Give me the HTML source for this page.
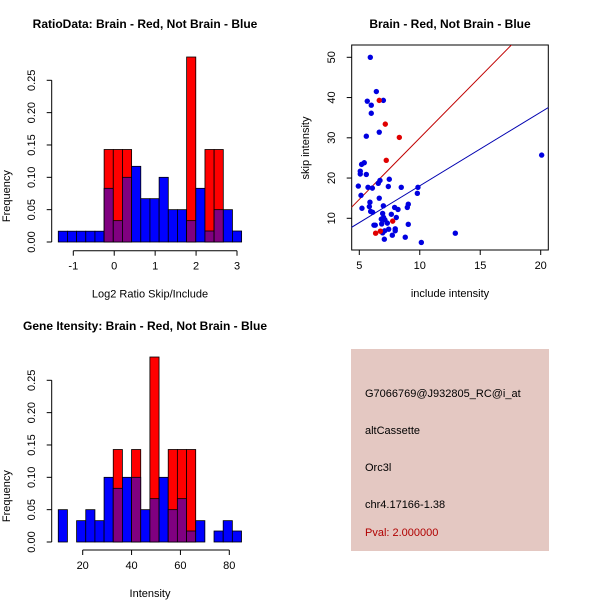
<!DOCTYPE html>
<html><head><meta charset="utf-8"><style>
body{margin:0;background:#fff}
svg{display:block;font-family:"Liberation Sans",sans-serif}
</style></head><body>
<svg id="c" width="600" height="600" xmlns="http://www.w3.org/2000/svg">
<rect width="600" height="600" fill="#fff"/>
<text x="145" y="28" font-size="12" font-weight="bold" text-anchor="middle">RatioData: Brain - Red, Not Brain - Blue</text>
<text x="450" y="28" font-size="12" font-weight="bold" text-anchor="middle">Brain - Red, Not Brain - Blue</text>
<text x="145" y="330" font-size="12" font-weight="bold" text-anchor="middle">Gene Itensity: Brain - Red, Not Brain - Blue</text>
<g>
<rect x="351" y="349" width="198" height="202" fill="#e4c8c2"/>
<text x="365" y="397" font-size="11">G7066769@J932805_RC@i_at</text>
<text x="365" y="434" font-size="11">altCassette</text>
<text x="365" y="471" font-size="11">Orc3l</text>
<text x="365" y="508" font-size="11">chr4.17166-1.38</text>
<text x="365" y="536" font-size="11" fill="#b00000">Pval: 2.000000</text>
</g>
</svg>
<script>
// Ratio histogram data
const ratioBinStart = -1.367;
const ratioBinWidth = 0.224;
const ratioBlue = [0.0167,0.0167,0.0167,0.0167,0.0167,0.083,0.033,0.1,0.117,0.067,0.067,0.1,0.05,0.05,0.033,0.083,0.017,0.05,0.05,0.017];
const ratioRed = [0,0,0,0,0,0.143,0.143,0.143,0,0,0,0,0,0,0.286,0,0.143,0.143,0,0];
const ratioXTicks = [-1,0,1,2,3];
const freqTicks = ["0.00","0.05","0.10","0.15","0.20","0.25"];
// Intensity histogram data
const intBinStart = 10;
const intBinWidth = 3.75;
const intBlue = [0.05,0,0.033,0.05,0.033,0.1,0.083,0.1,0.1,0.05,0.067,0.1,0.05,0.067,0.017,0.033,0,0.017,0.033,0.017];
const intRed = [0,0,0,0,0,0,0.143,0,0.143,0,0.286,0,0.143,0.143,0.143,0,0,0,0,0];
const intXTicks = [20,40,60,80];
// Scatter data
const blueX = [5.91,6.41,6.99,5.66,5.99,5.99,6.65,5.58,5.19,5.41,5.08,5.08,5.58,4.92,5.72,6.08,6.71,6.57,7.48,7.40,8.47,9.85,9.80,5.14,6.65,5.88,5.83,6.99,5.22,5.94,6.10,9.05,8.97,7.92,8.20,8.06,6.93,7.65,7.01,6.82,7.12,7.32,6.85,6.32,6.21,9.05,7.97,7.97,7.43,7.10,6.93,7.73,8.80,7.07,10.13,12.94,20.08];
const blueY = [50.0,41.5,39.3,39.1,38.1,36.1,31.4,30.4,23.4,23.8,21.7,21.0,20.9,18.0,17.7,17.5,19.4,18.7,19.7,17.9,17.7,17.7,16.2,15.7,15.0,14.0,12.9,13.1,12.5,11.7,11.5,13.5,12.7,12.7,12.2,10.2,11.2,11.0,10.2,9.8,9.6,8.8,8.6,8.3,8.3,8.5,7.4,6.9,7.3,6.9,6.4,5.8,5.3,4.8,4.0,6.3,25.7];
const redX = [6.65,7.15,8.31,7.23,7.76,6.35,6.74];
const redY = [39.3,33.4,30.1,24.4,9.3,6.3,6.8];
const scatterXTicks = [5,10,15,20];
const scatterYTicks = [10,20,30,40,50];
const blueFit = [-0.23,1.83];
const redFit = [-0.55,3.05];

const NS="http://www.w3.org/2000/svg";
const svg=document.getElementById('c');
function mk(tag,attrs,parent){const e=document.createElementNS(NS,tag);for(const k in attrs)e.setAttribute(k,attrs[k]);(parent||svg).appendChild(e);return e;}

function hist(name,blue,red,bs,bw,xTicks,xLabel,x0,x1,xv0,xv1,y0px,y25px,axisY){
  const g=mk('g',{});
  
  
  const sx=v=>x0+(v-xv0)*(x1-x0)/(xv1-xv0);
  const sy=v=>y0px+(y25px-y0px)*v/0.25;
  for(let i=0;i<blue.length;i++){
    const xa=sx(bs+i*bw),xb=sx(bs+(i+1)*bw);
    const b=blue[i],r=red[i],m=Math.min(b,r),mx=Math.max(b,r);
    if(mx<=0)continue;
    const top=b>=r?'#0000ff':'#ff0000';
    const e=mk('rect',{x:xa,y:sy(mx),width:xb-xa,height:sy(0)-sy(mx),fill:top,stroke:'#000','stroke-width':0.8},g);
    
    
    if(m>0){
      const p=mk('rect',{x:xa,y:sy(m),width:xb-xa,height:sy(0)-sy(m),fill:'#800080',stroke:'#000','stroke-width':0.8},g);
      
      
    }
  }
  const ax=51.7;
  mk('line',{x1:ax,x2:ax,y1:sy(0),y2:sy(0.25),stroke:'#000'},g);
  freqTicks.forEach((t,i)=>{const y=sy(parseFloat(t));
    mk('line',{x1:ax-5,x2:ax,y1:y,y2:y,stroke:'#000'},g);
    const tx=mk('text',{x:35,y:y,'font-size':11,'text-anchor':'middle',transform:`rotate(-90 35 ${y})`},g);
    
    
    tx.textContent=t;});
  mk('line',{x1:sx(xTicks[0]),x2:sx(xTicks[xTicks.length-1]),y1:axisY,y2:axisY,stroke:'#000'},g);
  xTicks.forEach(t=>{const x=sx(t);
    mk('line',{x1:x,x2:x,y1:axisY,y2:axisY+5,stroke:'#000'},g);
    const tx=mk('text',{x:x,y:axisY+19,'font-size':11,'text-anchor':'middle'},g);
    
    
    tx.textContent=t;});
  const cy=(sy(0)+sy(0.25))/2+35;
  const yl=mk('text',{x:10,y:cy,'font-size':11,'text-anchor':'middle',transform:`rotate(-90 10 ${cy})`},g);
  
  
  yl.textContent='Frequency';
  const xl=mk('text',{x:150,y:axisY+47,'font-size':11,'text-anchor':'middle'},g);
  
  
  xl.textContent=xLabel;
}
hist('ratio-histogram',ratioBlue,ratioRed,ratioBinStart,ratioBinWidth,ratioXTicks,'Log2 Ratio Skip/Include',73.3,237,-1,3,242,80.3,250.7);
hist('intensity-histogram',intBlue,intRed,intBinStart,intBinWidth,intXTicks,'Intensity',82.7,229.3,20,80,542,380.3,550);

(function(){
  const g=mk('g',{});
  
  
  const L=351.7,R=548.3,T=45,B=250;
  const sx=v=>359.3+(v-5)*(540.7-359.3)/15;
  const sy=v=>218.3-(v-10)*(218.3-57.3)/40;
  const cp=mk('clipPath',{id:'clip'},g);mk('rect',{x:L,y:T,width:R-L,height:B-T},cp);
  mk('rect',{x:L,y:T,width:R-L,height:B-T,fill:'none',stroke:'#000'},g);
  const xv0=4.3,xv1=20.7;
  [[redFit,'#c00000','red-fit-line'],[blueFit,'#0000b0','blue-fit-line']].forEach(([f,c,n])=>{
    const l=mk('line',{x1:sx(xv0),y1:sy(f[0]+f[1]*xv0),x2:sx(xv1),y2:sy(f[0]+f[1]*xv1),stroke:c,'clip-path':'url(#clip)'},g);
    
    
  });
  blueX.forEach((x,i)=>{const p=mk('circle',{cx:sx(x),cy:sy(blueY[i]),r:2.7,fill:'#0000e0'},g);
    
    });
  redX.forEach((x,i)=>{const p=mk('circle',{cx:sx(x),cy:sy(redY[i]),r:2.7,fill:'#e00000'},g);
    
    });
  scatterXTicks.forEach(t=>{const x=sx(t);
    mk('line',{x1:x,x2:x,y1:B,y2:B+5,stroke:'#000'},g);
    const tx=mk('text',{x:x,y:B+19,'font-size':11,'text-anchor':'middle'},g);
    
    
    tx.textContent=t;});
  scatterYTicks.forEach(t=>{const y=sy(t);
    mk('line',{x1:L-5,x2:L,y1:y,y2:y,stroke:'#000'},g);
    const tx=mk('text',{x:335,y:y,'font-size':11,'text-anchor':'middle',transform:`rotate(-90 335 ${y})`},g);
    
    
    tx.textContent=t;});
  const xl=mk('text',{x:450,y:297,'font-size':11,'text-anchor':'middle'},g);
  
  
  xl.textContent='include intensity';
  const yl=mk('text',{x:309,y:148,'font-size':11,'text-anchor':'middle',transform:'rotate(-90 309 148)'},g);
  
  
  yl.textContent='skip intensity';
})();
</script>
</body></html>
